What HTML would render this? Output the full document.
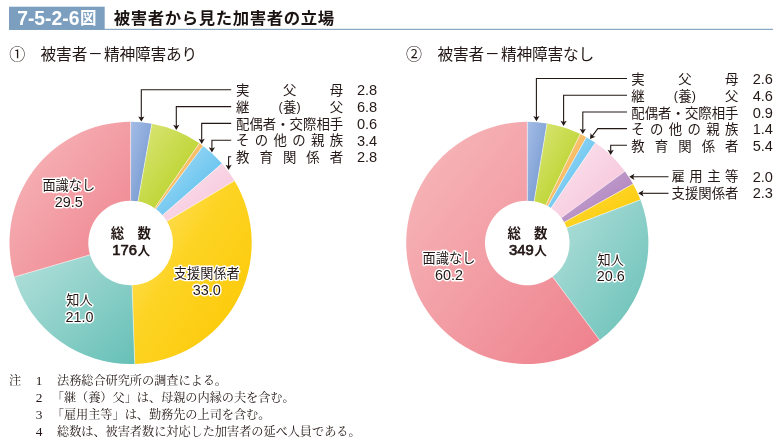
<!DOCTYPE html>
<html lang="ja"><head><meta charset="utf-8"><title>7-5-2-6図 被害者から見た加害者の立場</title>
<style>
html,body{margin:0;padding:0;background:#fff}
svg{display:block;will-change:transform}
text{font-family:"Liberation Sans","Noto Sans CJK JP",sans-serif;will-change:opacity}
text.nt{font-family:"Liberation Serif","Noto Serif CJK SC",serif}
</style></head>
<body>
<svg role="img" aria-label="7-5-2-6図 被害者から見た加害者の立場" width="781" height="443" viewBox="0 0 781 443">
<rect x="9" y="6.7" width="95.7" height="23" fill="#7c9fbf"/>
<rect x="9" y="28.8" width="764" height="1.1" fill="#7c9fbf"/>
<text x="17.20" y="24.80" font-size="19.80" text-anchor="start" font-weight="bold" fill="#fff" textLength="62.2" lengthAdjust="spacingAndGlyphs">7-5-2-6</text>
<text x="80.10" y="24.37" font-size="16.5" font-weight="bold" fill="#fff">図</text>
<text x="113.70" y="24.43" font-size="16.4" font-weight="bold" fill="#1a1311" textLength="220.4" lengthAdjust="spacing">被害者から見た加害者の立場</text>
<g aria-label="① 被害者－精神障害あり">
<text x="9.20" y="60.08" font-size="16" fill="#231815">①</text>
<text x="40.50" y="59.57" font-size="15.7" fill="#231815" textLength="46.9" lengthAdjust="spacing">被害者</text>
<text x="104.10" y="59.57" font-size="15.7" fill="#231815" textLength="93.2" lengthAdjust="spacing">精神障害あり</text>
<rect x="90.10" y="53.0" width="10.6" height="1.1" fill="#231815"/></g>
<g aria-label="② 被害者－精神障害なし">
<text x="406.10" y="60.08" font-size="16" fill="#231815">②</text>
<text x="437.40" y="59.57" font-size="15.7" fill="#231815" textLength="46.9" lengthAdjust="spacing">被害者</text>
<text x="501.00" y="59.57" font-size="15.7" fill="#231815" textLength="93.2" lengthAdjust="spacing">精神障害なし</text>
<rect x="487.00" y="53.0" width="10.6" height="1.1" fill="#231815"/></g>
<linearGradient id="gr1" x1="0" y1="0" x2="1" y2="1"><stop offset="0" stop-color="#a4bde6"/><stop offset="1" stop-color="#6e92cc"/></linearGradient>
<path d="M130.60 121.85A121.1 121.1 0 0 1 151.82 123.72L138.01 201.30A42.3 42.3 0 0 0 130.60 200.65Z" fill="url(#gr1)"/>
<linearGradient id="gr2" x1="0" y1="0" x2="1" y2="1"><stop offset="0" stop-color="#dbe67a"/><stop offset="1" stop-color="#b2cd16"/></linearGradient>
<path d="M151.82 123.72A121.1 121.1 0 0 1 199.36 143.26L154.62 208.13A42.3 42.3 0 0 0 138.01 201.30Z" fill="url(#gr2)"/>
<linearGradient id="gr3" x1="0" y1="0" x2="1" y2="1"><stop offset="0" stop-color="#fcd291"/><stop offset="1" stop-color="#f5a83c"/></linearGradient>
<path d="M199.36 143.26A121.1 121.1 0 0 1 203.07 145.93L155.91 209.06A42.3 42.3 0 0 0 154.62 208.13Z" fill="url(#gr3)"/>
<linearGradient id="gr4" x1="0" y1="0" x2="1" y2="1"><stop offset="0" stop-color="#b0e0f8"/><stop offset="1" stop-color="#48b7ea"/></linearGradient>
<path d="M203.07 145.93A121.1 121.1 0 0 1 222.01 163.52L162.53 215.20A42.3 42.3 0 0 0 155.91 209.06Z" fill="url(#gr4)"/>
<linearGradient id="gr5" x1="0" y1="0" x2="1" y2="1"><stop offset="0" stop-color="#fce6f0"/><stop offset="1" stop-color="#f5c0d6"/></linearGradient>
<path d="M222.01 163.52A121.1 121.1 0 0 1 234.51 180.76L166.90 221.23A42.3 42.3 0 0 0 162.53 215.20Z" fill="url(#gr5)"/>
<linearGradient id="gr6" x1="0" y1="0" x2="1" y2="1"><stop offset="0" stop-color="#ffe57a"/><stop offset="0.42" stop-color="#fdd424"/><stop offset="1" stop-color="#fcc600"/></linearGradient>
<path d="M234.51 180.76A121.1 121.1 0 0 1 134.79 363.98L132.06 285.22A42.3 42.3 0 0 0 166.90 221.23Z" fill="url(#gr6)"/>
<linearGradient id="gr7" x1="0" y1="0" x2="1" y2="1"><stop offset="0" stop-color="#b4e0db"/><stop offset="1" stop-color="#66c0b7"/></linearGradient>
<path d="M134.79 363.98A121.1 121.1 0 0 1 14.37 276.95L90.00 254.83A42.3 42.3 0 0 0 132.06 285.22Z" fill="url(#gr7)"/>
<linearGradient id="gr8" x1="0" y1="0" x2="1" y2="1"><stop offset="0" stop-color="#f7bbbd"/><stop offset="1" stop-color="#ee808c"/></linearGradient>
<path d="M14.37 276.95A121.1 121.1 0 0 1 130.60 121.85L130.60 200.65A42.3 42.3 0 0 0 90.00 254.83Z" fill="url(#gr8)"/>
<path d="M130.60 121.85L130.60 200.65" stroke="#fff" stroke-width="0.6" stroke-opacity="0.85"/>
<path d="M151.82 123.72L138.01 201.30" stroke="#fff" stroke-width="0.6" stroke-opacity="0.85"/>
<path d="M199.36 143.26L154.62 208.13" stroke="#fff" stroke-width="0.6" stroke-opacity="0.85"/>
<path d="M203.07 145.93L155.91 209.06" stroke="#fff" stroke-width="0.6" stroke-opacity="0.85"/>
<path d="M222.01 163.52L162.53 215.20" stroke="#fff" stroke-width="0.6" stroke-opacity="0.85"/>
<path d="M234.51 180.76L166.90 221.23" stroke="#fff" stroke-width="0.6" stroke-opacity="0.85"/>
<path d="M134.79 363.98L132.06 285.22" stroke="#fff" stroke-width="0.6" stroke-opacity="0.85"/>
<path d="M14.37 276.95L90.00 254.83" stroke="#fff" stroke-width="0.6" stroke-opacity="0.85"/>
<linearGradient id="gr9" x1="0" y1="0" x2="1" y2="1"><stop offset="0" stop-color="#a4bde6"/><stop offset="1" stop-color="#6e92cc"/></linearGradient>
<path d="M527.30 121.85A121.1 121.1 0 0 1 547.00 123.46L534.18 201.21A42.3 42.3 0 0 0 527.30 200.65Z" fill="url(#gr9)"/>
<linearGradient id="gr10" x1="0" y1="0" x2="1" y2="1"><stop offset="0" stop-color="#dbe67a"/><stop offset="1" stop-color="#b2cd16"/></linearGradient>
<path d="M547.00 123.46A121.1 121.1 0 0 1 580.23 134.03L545.79 204.91A42.3 42.3 0 0 0 534.18 201.21Z" fill="url(#gr10)"/>
<linearGradient id="gr11" x1="0" y1="0" x2="1" y2="1"><stop offset="0" stop-color="#fcd291"/><stop offset="1" stop-color="#f5a83c"/></linearGradient>
<path d="M580.23 134.03A121.1 121.1 0 0 1 586.31 137.20L547.91 206.01A42.3 42.3 0 0 0 545.79 204.91Z" fill="url(#gr11)"/>
<linearGradient id="gr12" x1="0" y1="0" x2="1" y2="1"><stop offset="0" stop-color="#b0e0f8"/><stop offset="1" stop-color="#48b7ea"/></linearGradient>
<path d="M586.31 137.20A121.1 121.1 0 0 1 595.37 142.79L551.08 207.96A42.3 42.3 0 0 0 547.91 206.01Z" fill="url(#gr12)"/>
<linearGradient id="gr13" x1="0" y1="0" x2="1" y2="1"><stop offset="0" stop-color="#fce6f0"/><stop offset="1" stop-color="#f5c0d6"/></linearGradient>
<path d="M595.37 142.79A121.1 121.1 0 0 1 624.82 171.16L561.36 217.87A42.3 42.3 0 0 0 551.08 207.96Z" fill="url(#gr13)"/>
<linearGradient id="gr14" x1="0" y1="0" x2="1" y2="1"><stop offset="0" stop-color="#d2b2da"/><stop offset="1" stop-color="#a274b3"/></linearGradient>
<path d="M624.82 171.16A121.1 121.1 0 0 1 633.05 183.94L564.24 222.34A42.3 42.3 0 0 0 561.36 217.87Z" fill="url(#gr14)"/>
<linearGradient id="gr15" x1="0" y1="0" x2="1" y2="1"><stop offset="0" stop-color="#ffe57a"/><stop offset="0.42" stop-color="#fdd424"/><stop offset="1" stop-color="#fcc600"/></linearGradient>
<path d="M633.05 183.94A121.1 121.1 0 0 1 640.45 199.79L566.82 227.87A42.3 42.3 0 0 0 564.24 222.34Z" fill="url(#gr15)"/>
<linearGradient id="gr16" x1="0" y1="0" x2="1" y2="1"><stop offset="0" stop-color="#b4e0db"/><stop offset="1" stop-color="#66c0b7"/></linearGradient>
<path d="M640.45 199.79A121.1 121.1 0 0 1 599.71 340.02L552.59 276.86A42.3 42.3 0 0 0 566.82 227.87Z" fill="url(#gr16)"/>
<linearGradient id="gr17" x1="0" y1="0" x2="1" y2="1"><stop offset="0" stop-color="#f7bbbd"/><stop offset="1" stop-color="#ee808c"/></linearGradient>
<path d="M599.71 340.02A121.1 121.1 0 1 1 527.30 121.85L527.30 200.65A42.3 42.3 0 1 0 552.59 276.86Z" fill="url(#gr17)"/>
<path d="M527.30 121.85L527.30 200.65" stroke="#fff" stroke-width="0.6" stroke-opacity="0.85"/>
<path d="M547.00 123.46L534.18 201.21" stroke="#fff" stroke-width="0.6" stroke-opacity="0.85"/>
<path d="M580.23 134.03L545.79 204.91" stroke="#fff" stroke-width="0.6" stroke-opacity="0.85"/>
<path d="M586.31 137.20L547.91 206.01" stroke="#fff" stroke-width="0.6" stroke-opacity="0.85"/>
<path d="M595.37 142.79L551.08 207.96" stroke="#fff" stroke-width="0.6" stroke-opacity="0.85"/>
<path d="M624.82 171.16L561.36 217.87" stroke="#fff" stroke-width="0.6" stroke-opacity="0.85"/>
<path d="M633.05 183.94L564.24 222.34" stroke="#fff" stroke-width="0.6" stroke-opacity="0.85"/>
<path d="M640.45 199.79L566.82 227.87" stroke="#fff" stroke-width="0.6" stroke-opacity="0.85"/>
<path d="M599.71 340.02L552.59 276.86" stroke="#fff" stroke-width="0.6" stroke-opacity="0.85"/>
<path d="M231.20 89.70L141.30 89.70L141.30 118.60" fill="none" stroke="#231815" stroke-width="1.1"/>
<path d="M141.30 121.60L138.20 116.40L141.30 117.60L144.40 116.40Z" fill="#231815"/>
<path d="M231.20 106.60L176.30 106.60L176.30 127.00" fill="none" stroke="#231815" stroke-width="1.1"/>
<path d="M176.30 130.00L173.20 124.80L176.30 126.00L179.40 124.80Z" fill="#231815"/>
<path d="M231.20 123.40L201.70 123.40L201.70 141.00" fill="none" stroke="#231815" stroke-width="1.1"/>
<path d="M201.70 144.00L198.60 138.80L201.70 140.00L204.80 138.80Z" fill="#231815"/>
<path d="M231.20 140.30L211.90 140.30L211.90 149.40" fill="none" stroke="#231815" stroke-width="1.1"/>
<path d="M211.90 152.40L208.80 147.20L211.90 148.40L215.00 147.20Z" fill="#231815"/>
<path d="M231.20 156.80L228.60 156.80L228.60 167.00" fill="none" stroke="#231815" stroke-width="1.1"/>
<path d="M228.60 170.00L225.50 164.80L228.60 166.00L231.70 164.80Z" fill="#231815"/>
<path d="M627.00 78.50L536.40 78.50L536.40 118.20" fill="none" stroke="#231815" stroke-width="1.1"/>
<path d="M536.40 121.20L533.30 116.00L536.40 117.20L539.50 116.00Z" fill="#231815"/>
<path d="M627.00 95.30L563.60 95.30L563.60 123.00" fill="none" stroke="#231815" stroke-width="1.1"/>
<path d="M563.60 126.00L560.50 120.80L563.60 122.00L566.70 120.80Z" fill="#231815"/>
<path d="M627.00 112.00L582.80 112.00L582.80 131.00" fill="none" stroke="#231815" stroke-width="1.1"/>
<path d="M582.80 134.00L579.70 128.80L582.80 130.00L585.90 128.80Z" fill="#231815"/>
<path d="M627.00 128.60L597.80 128.60L591.80 136.60" fill="none" stroke="#231815" stroke-width="1.1"/>
<path d="M590.00 139.10L590.61 133.08L592.39 135.89L595.59 136.77Z" fill="#231815"/>
<path d="M627.00 145.30L610.70 145.30L610.70 152.00" fill="none" stroke="#231815" stroke-width="1.1"/>
<path d="M610.70 155.00L607.60 149.80L610.70 151.00L613.80 149.80Z" fill="#231815"/>
<path d="M668.50 176.80L632.00 176.80" fill="none" stroke="#231815" stroke-width="1.1"/>
<path d="M629.20 176.80L634.40 173.70L633.20 176.80L634.40 179.90Z" fill="#231815"/>
<path d="M668.50 193.30L641.00 193.30" fill="none" stroke="#231815" stroke-width="1.1"/>
<path d="M638.30 193.30L643.50 190.20L642.30 193.30L643.50 196.40Z" fill="#231815"/>
<text x="236.00 282.90 329.80" y="95.39" font-size="13.4" fill="#231815">実父母</text>
<text x="377.20" y="95.40" font-size="14.60" text-anchor="end" font-weight="normal" fill="#231815" textLength="20.3" lengthAdjust="spacingAndGlyphs">2.8</text>
<g aria-label="継(養)父">
<text x="236.00" y="112.09" font-size="13.4" fill="#231815">継</text>
<text x="329.80" y="112.09" font-size="13.4" fill="#231815">父</text>
<text x="282.90" y="112.09" font-size="13.4" fill="#231815">養</text>
<text x="282.70" y="111.30" font-size="12.50" text-anchor="end" font-weight="normal" fill="#231815">(</text>
<text x="296.50" y="111.30" font-size="12.50" text-anchor="start" font-weight="normal" fill="#231815">)</text>
</g>
<text x="377.20" y="112.10" font-size="14.60" text-anchor="end" font-weight="normal" fill="#231815" textLength="20.3" lengthAdjust="spacingAndGlyphs">6.8</text>
<text x="236.00" y="128.79" font-size="13.4" fill="#231815" textLength="107.2" lengthAdjust="spacing">配偶者・交際相手</text>
<text x="377.20" y="128.80" font-size="14.60" text-anchor="end" font-weight="normal" fill="#231815" textLength="20.3" lengthAdjust="spacingAndGlyphs">0.6</text>
<text x="236.00 254.76 273.52 292.28 311.04 329.80" y="145.49" font-size="13.4" fill="#231815">その他の親族</text>
<text x="377.20" y="145.50" font-size="14.60" text-anchor="end" font-weight="normal" fill="#231815" textLength="20.3" lengthAdjust="spacingAndGlyphs">3.4</text>
<text x="236.00 259.45 282.90 306.35 329.80" y="162.09" font-size="13.4" fill="#231815">教育関係者</text>
<text x="377.20" y="162.10" font-size="14.60" text-anchor="end" font-weight="normal" fill="#231815" textLength="20.3" lengthAdjust="spacingAndGlyphs">2.8</text>
<text x="631.30 678.20 725.10" y="84.29" font-size="13.4" fill="#231815">実父母</text>
<text x="773.00" y="84.30" font-size="14.60" text-anchor="end" font-weight="normal" fill="#231815" textLength="20.3" lengthAdjust="spacingAndGlyphs">2.6</text>
<g aria-label="継(養)父">
<text x="631.30" y="100.99" font-size="13.4" fill="#231815">継</text>
<text x="725.10" y="100.99" font-size="13.4" fill="#231815">父</text>
<text x="678.20" y="100.99" font-size="13.4" fill="#231815">養</text>
<text x="678.00" y="100.20" font-size="12.50" text-anchor="end" font-weight="normal" fill="#231815">(</text>
<text x="691.80" y="100.20" font-size="12.50" text-anchor="start" font-weight="normal" fill="#231815">)</text>
</g>
<text x="773.00" y="101.00" font-size="14.60" text-anchor="end" font-weight="normal" fill="#231815" textLength="20.3" lengthAdjust="spacingAndGlyphs">4.6</text>
<text x="631.30" y="117.59" font-size="13.4" fill="#231815" textLength="107.2" lengthAdjust="spacing">配偶者・交際相手</text>
<text x="773.00" y="117.60" font-size="14.60" text-anchor="end" font-weight="normal" fill="#231815" textLength="20.3" lengthAdjust="spacingAndGlyphs">0.9</text>
<text x="631.30 650.06 668.82 687.58 706.34 725.10" y="134.19" font-size="13.4" fill="#231815">その他の親族</text>
<text x="773.00" y="134.20" font-size="14.60" text-anchor="end" font-weight="normal" fill="#231815" textLength="20.3" lengthAdjust="spacingAndGlyphs">1.4</text>
<text x="631.30 654.75 678.20 701.65 725.10" y="150.79" font-size="13.4" fill="#231815">教育関係者</text>
<text x="773.00" y="150.80" font-size="14.60" text-anchor="end" font-weight="normal" fill="#231815" textLength="20.3" lengthAdjust="spacingAndGlyphs">5.4</text>
<text x="671.50 689.37 707.24 725.10" y="181.49" font-size="13.4" fill="#231815">雇用主等</text>
<text x="773.00" y="181.50" font-size="14.60" text-anchor="end" font-weight="normal" fill="#231815" textLength="20.3" lengthAdjust="spacingAndGlyphs">2.0</text>
<text x="671.50" y="198.19" font-size="13.4" fill="#231815" textLength="67" lengthAdjust="spacing">支援関係者</text>
<text x="773.00" y="198.20" font-size="14.60" text-anchor="end" font-weight="normal" fill="#231815" textLength="20.3" lengthAdjust="spacingAndGlyphs">2.3</text>
<text x="42.40" y="190.02" font-size="13.2" fill="#231815" stroke="#fff" stroke-width="2.8" stroke-linejoin="round" paint-order="stroke" textLength="52.8" lengthAdjust="spacing">面識なし</text>
<text x="68.80" y="206.60" font-size="14.40" text-anchor="middle" font-weight="normal" fill="#231815" stroke="#fff" stroke-width="2.8" stroke-linejoin="round" paint-order="stroke">29.5</text>
<text x="173.80" y="278.02" font-size="13.2" fill="#231815" stroke="#fff" stroke-width="2.8" stroke-linejoin="round" paint-order="stroke" textLength="66" lengthAdjust="spacing">支援関係者</text>
<text x="206.80" y="294.60" font-size="14.40" text-anchor="middle" font-weight="normal" fill="#231815" stroke="#fff" stroke-width="2.8" stroke-linejoin="round" paint-order="stroke">33.0</text>
<text x="66.30" y="305.02" font-size="13.2" fill="#231815" stroke="#fff" stroke-width="2.8" stroke-linejoin="round" paint-order="stroke" textLength="26.4" lengthAdjust="spacing">知人</text>
<text x="79.50" y="321.60" font-size="14.40" text-anchor="middle" font-weight="normal" fill="#231815" stroke="#fff" stroke-width="2.8" stroke-linejoin="round" paint-order="stroke">21.0</text>
<text x="422.60" y="263.02" font-size="13.2" fill="#231815" stroke="#fff" stroke-width="2.8" stroke-linejoin="round" paint-order="stroke" textLength="52.8" lengthAdjust="spacing">面識なし</text>
<text x="449.00" y="279.60" font-size="14.40" text-anchor="middle" font-weight="normal" fill="#231815" stroke="#fff" stroke-width="2.8" stroke-linejoin="round" paint-order="stroke">60.2</text>
<text x="597.60" y="264.62" font-size="13.2" fill="#231815" stroke="#fff" stroke-width="2.8" stroke-linejoin="round" paint-order="stroke" textLength="26.4" lengthAdjust="spacing">知人</text>
<text x="610.80" y="281.20" font-size="14.40" text-anchor="middle" font-weight="normal" fill="#231815" stroke="#fff" stroke-width="2.8" stroke-linejoin="round" paint-order="stroke">20.6</text>
<g aria-label="総数 176人">
<text x="110.80" y="238.29" font-size="13.4" font-weight="bold" fill="#231815">総</text>
<text x="137.40" y="238.29" font-size="13.4" font-weight="bold" fill="#231815">数</text>
<text x="112.30" y="255.20" font-size="15.00" text-anchor="start" font-weight="normal" fill="#231815" stroke="#231815" stroke-width="0.7" textLength="24.7" lengthAdjust="spacingAndGlyphs">176</text>
<text x="137.50" y="254.63" font-size="12.7" font-weight="bold" fill="#231815">人</text>
</g>
<g aria-label="総数 349人">
<text x="507.50" y="238.29" font-size="13.4" font-weight="bold" fill="#231815">総</text>
<text x="534.10" y="238.29" font-size="13.4" font-weight="bold" fill="#231815">数</text>
<text x="509.00" y="255.20" font-size="15.00" text-anchor="start" font-weight="normal" fill="#231815" stroke="#231815" stroke-width="0.7" textLength="24.7" lengthAdjust="spacingAndGlyphs">349</text>
<text x="534.20" y="254.63" font-size="12.7" font-weight="bold" fill="#231815">人</text>
</g>
<text class="nt" x="9.00" y="385.14" font-size="12.2" fill="#231815">注</text>
<text x="39.2" y="385.00" font-size="13.4" text-anchor="middle" fill="#231815" style="font-family:'Liberation Serif',serif">1</text>
<text class="nt" x="57.00" y="385.14" font-size="12.2" fill="#231815" textLength="170.0" lengthAdjust="spacing">法務総合研究所の調査による。</text>
<text x="39.2" y="401.85" font-size="13.4" text-anchor="middle" fill="#231815" style="font-family:'Liberation Serif',serif">2</text>
<text class="nt" x="51.80" y="401.99" font-size="12.2" fill="#231815" textLength="242.9" lengthAdjust="spacing">「継（養）父」は、母親の内縁の夫を含む。</text>
<text x="39.2" y="418.70" font-size="13.4" text-anchor="middle" fill="#231815" style="font-family:'Liberation Serif',serif">3</text>
<text class="nt" x="51.80" y="418.84" font-size="12.2" fill="#231815" textLength="218.6" lengthAdjust="spacing">「雇用主等」は、勤務先の上司を含む。</text>
<text x="39.2" y="435.55" font-size="13.4" text-anchor="middle" fill="#231815" style="font-family:'Liberation Serif',serif">4</text>
<text class="nt" x="57.00" y="435.69" font-size="12.2" fill="#231815" textLength="303.6" lengthAdjust="spacing">総数は、被害者数に対応した加害者の延べ人員である。</text>
</svg>
</body></html>
